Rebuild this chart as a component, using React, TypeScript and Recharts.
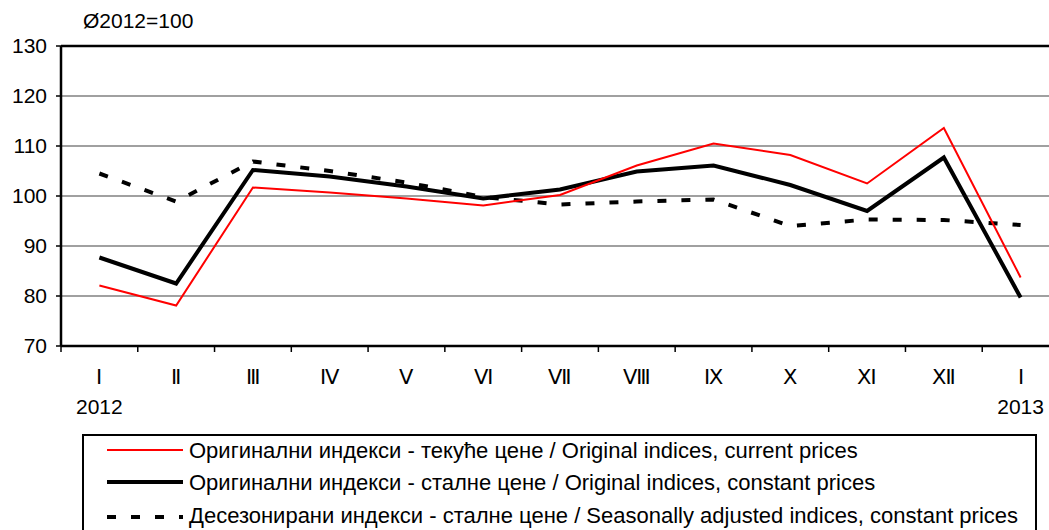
import React from 'react';
import { LineChart, Line, XAxis, YAxis, CartesianGrid, ReferenceLine } from 'recharts';

const months = ['Ⅰ', 'Ⅱ', 'Ⅲ', 'Ⅳ', 'Ⅴ', 'Ⅵ', 'Ⅶ', 'Ⅷ', 'Ⅸ', 'Ⅹ', 'Ⅺ', 'Ⅻ', 'Ⅰ'];
const years = ['2012', '', '', '', '', '', '', '', '', '', '', '', '2013'];
const currentPrices = [82.1, 78.1, 101.7, 100.7, 99.5, 98.1, 100.2, 106.1, 110.5, 108.2, 102.5, 113.6, 83.7];
const constantPrices = [87.7, 82.5, 105.2, 103.9, 101.9, 99.5, 101.3, 104.9, 106.1, 102.2, 97.0, 107.7, 79.7];
const seasonallyAdjusted = [104.5, 98.9, 106.9, 105.0, 102.7, 99.8, 98.3, 98.9, 99.3, 94.0, 95.3, 95.2, 94.2];
const yTicks = [70, 80, 90, 100, 110, 120, 130];
const seriesNames = [
  'Оригинални индекси - текуће цене / Original indices, current prices',
  'Оригинални индекси - сталне цене / Original indices, constant prices',
  'Десезонирани индекси - сталне цене / Seasonally adjusted indices, constant prices',
];
const baseLabel = 'Ø2012=100';

const data = months.map((m, i) => ({
  idx: i,
  month: m,
  year: years[i],
  current: currentPrices[i],
  constant: constantPrices[i],
  sa: seasonallyAdjusted[i],
}));

const FONT = '"Liberation Sans", Arial, sans-serif';
const CHART_W = 1070;
const CHART_H = 530;
const X_H = 30;
const MARGIN = { top: 46, right: 11, bottom: 184 - X_H, left: 0 };
const Y_W = 61;
const PLOT_W = CHART_W - MARGIN.left - MARGIN.right - Y_W;
const STEP = PLOT_W / months.length;

const XTick = (props: any) => {
  const { x, y, payload, index } = props;
  const i = typeof index === 'number' ? index : payload.index;
  return (
    <g>
      <line x1={x - STEP / 2} x2={x - STEP / 2} y1={y} y2={y + 6} stroke="#000" strokeWidth={1.5} />
      <text x={x} y={y + 38} textAnchor="middle" fontSize={21} fontFamily={FONT} fill="#000">
        {months[i]}
      </text>
      {years[i] ? (
        <text x={x} y={y + 68} textAnchor="middle" fontSize={21} fontFamily={FONT} fill="#000">
          {years[i]}
        </text>
      ) : null}
    </g>
  );
};

const LegendBox = () => (
  <svg width={956} height={100} style={{ display: 'block' }}>
    <rect x={1} y={1} width={953} height={140} fill="#fff" stroke="#000" strokeWidth={2} />
    <line x1={25} x2={101} y1={16} y2={16} stroke="#ff0000" strokeWidth={2} />
    <text x={107} y={24} fontSize={22} fontFamily={FONT} fill="#000">{seriesNames[0]}</text>
    <line x1={25} x2={101} y1={48} y2={48} stroke="#000" strokeWidth={4} />
    <text x={107} y={56} fontSize={22} fontFamily={FONT} fill="#000">{seriesNames[1]}</text>
    <line x1={25} x2={101} y1={83} y2={83} stroke="#000" strokeWidth={4} strokeDasharray="9 15" />
    <text x={107} y={89} fontSize={22} fontFamily={FONT} fill="#000">{seriesNames[2]}</text>
  </svg>
);

export default function App() {
  return (
    <div style={{ position: 'absolute', left: 0, top: 0, width: 1049, height: 530, overflow: 'hidden', background: '#fff' }}>
      <div style={{ position: 'absolute', left: 0, top: 0 }}>
        <LineChart width={CHART_W} height={CHART_H} data={data} margin={MARGIN}>
          <CartesianGrid vertical={false} stroke="#808080" strokeWidth={1.5} />
          <XAxis
            dataKey="idx"
            type="category"
            height={X_H}
            padding={{ left: STEP / 2, right: STEP / 2 }}
            tick={<XTick />}
            tickLine={false}
            tickSize={0}
            tickMargin={0}
            interval={0}
            axisLine={{ stroke: '#000', strokeWidth: 2.5 }}
          />
          <YAxis
            domain={[70, 130]}
            ticks={yTicks}
            width={Y_W}
            tickSize={5}
            tickMargin={9}
            interval={0}
            allowDataOverflow
            axisLine={{ stroke: '#000', strokeWidth: 2.5 }}
            tickLine={{ stroke: '#000', strokeWidth: 1.5 }}
            tick={{ fontSize: 21, fontFamily: FONT, fill: '#000' }}
          />
          <ReferenceLine y={130} stroke="#000" strokeWidth={2.5} />
          <Line dataKey="sa" name={seriesNames[2]} stroke="#000" strokeWidth={4} strokeDasharray="9 15" dot={false} isAnimationActive={false} />
          <Line dataKey="constant" name={seriesNames[1]} stroke="#000" strokeWidth={4} dot={false} isAnimationActive={false} />
          <Line dataKey="current" name={seriesNames[0]} stroke="#ff0000" strokeWidth={2} dot={false} isAnimationActive={false} />
        </LineChart>
      </div>
      <div style={{ position: 'absolute', left: 83, top: 6, fontFamily: FONT, fontSize: 21, lineHeight: '30px', color: '#000' }}>
        {baseLabel}
      </div>
      <div style={{ position: 'absolute', left: 82, top: 434 }}>
        <LegendBox />
      </div>
    </div>
  );
}
